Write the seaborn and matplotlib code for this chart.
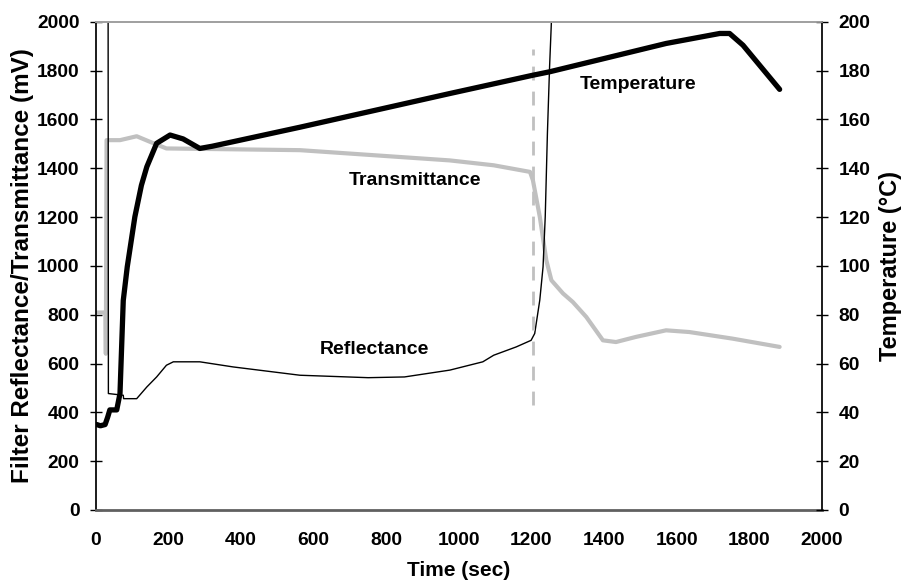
import matplotlib
matplotlib.use("Agg")
import matplotlib.pyplot as plt
import pandas as pd
import seaborn as sns

# Temperature (degC, right axis)
temp_time = [2, 12, 25, 32, 38, 57, 66, 75, 86, 107, 125, 140, 167, 204, 240, 286, 320,
             562, 975, 1204, 1250, 1571, 1719, 1746, 1783, 1884]
temp_val = [35, 34.5, 35, 38, 41, 41, 47.7, 85.8, 99.6, 120.1, 133, 140.6, 150.2, 153.6, 152,
            148.1, 149, 156.8, 170.6, 178.1, 179.5, 191.1, 195.2, 195.2, 190.4, 172.3]

# Transmittance (mV)
trans_time = [2, 26, 27, 29, 66, 112, 149, 194, 562, 975, 1096, 1196, 1204, 1223, 1241,
              1255, 1287, 1314, 1351, 1397, 1433, 1488, 1571, 1635, 1754, 1884]
trans_val = [809, 809, 640, 1515, 1515, 1531, 1508, 1481, 1474, 1432, 1412, 1385, 1351, 1201,
             1023, 941, 887, 852, 791, 695, 688, 709, 736, 729, 702, 668]

# Reflectance (mV)
refl_time = [2, 33, 34, 75, 76, 112, 140, 167, 194, 213, 286, 378, 562, 750, 850, 975, 1066,
             1096, 1158, 1199, 1209, 1223, 1232, 1238, 1244, 1250, 1255, 1262]
refl_val = [2600, 2600, 477, 470, 456, 456, 504, 545, 593, 607, 607, 586, 552, 542, 545, 573,
            607, 634, 668, 695, 723, 860, 996, 1201, 1543, 1816, 2000, 2300]

sns.set_theme(style="white")
plt.rcParams['font.family'] = ['Liberation Sans', 'DejaVu Sans']
plt.rcParams['font.weight'] = 'bold'
plt.rcParams['text.color'] = 'black'
plt.rcParams['axes.labelcolor'] = 'black'

fig = plt.figure(figsize=(9.01, 5.8), dpi=100)
ax = fig.add_axes([0.1066, 0.1207, 0.8054, 0.8418])
ax2 = ax.twinx()

trans_df = pd.DataFrame({'time': trans_time, 'mV': trans_val})
refl_df = pd.DataFrame({'time': refl_time, 'mV': refl_val})
temp_df = pd.DataFrame({'time': temp_time, 'temp': temp_val})

sns.lineplot(data=trans_df, x='time', y='mV', ax=ax, color='#c0c0c0', linewidth=3, sort=False)
sns.lineplot(data=refl_df, x='time', y='mV', ax=ax, color='black', linewidth=1, sort=False)
ax.vlines(1205, 430, 1890, colors='#c0c0c0', linestyles=(0, (5, 4)), linewidth=2)
sns.lineplot(data=temp_df, x='time', y='temp', ax=ax2, color='black', linewidth=3.8, sort=False)

ax.set_xlim(0, 2000)
ax.set_ylim(0, 2000)
ax2.set_ylim(0, 200)
ax.set_xticks(range(0, 2001, 200))
ax.set_yticks(range(0, 2001, 200))
ax2.set_yticks(range(0, 201, 20))

ax.set_xlabel('Time (sec)', fontsize=15, fontweight='bold', va='center')
ax.set_ylabel('Filter Reflectance/Transmittance (mV)', fontsize=17.5, fontweight='bold',
              va='center')
ax2.set_ylabel('Temperature (°C)', fontsize=17, fontweight='bold', va='center')
ax.xaxis.set_label_coords(0.5, -0.124)
ax.yaxis.set_label_coords(-0.102, 0.5)
ax2.yaxis.set_label_coords(1.095, 0.5)

for a in (ax, ax2):
    a.tick_params(direction='inout', length=8, width=1, colors='black', labelcolor='black',
                  labelsize=13.8)
    for lab in a.get_xticklabels() + a.get_yticklabels():
        lab.set_fontweight('bold')
ax.tick_params(axis='y', pad=8)
ax.tick_params(axis='x', pad=12)
ax2.tick_params(axis='y', pad=8)

ax.spines['top'].set_color('#a0a0a0')
ax2.spines['top'].set_color('#a0a0a0')
ax.spines['bottom'].set_color('#606060')
ax.spines['bottom'].set_linewidth(2)
ax2.spines['bottom'].set_visible(False)
ax.spines['left'].set_color('black')
ax2.spines['right'].set_color('black')
ax.spines['right'].set_visible(False)
ax2.spines['left'].set_visible(False)

ax.text(1493, 1745, 'Temperature', fontsize=14, fontweight='bold', ha='center', va='center')
ax.text(879, 1351, 'Transmittance', fontsize=14, fontweight='bold', ha='center', va='center')
ax.text(766, 657, 'Reflectance', fontsize=14, fontweight='bold', ha='center', va='center')

fig.savefig('out.png', dpi=100)
